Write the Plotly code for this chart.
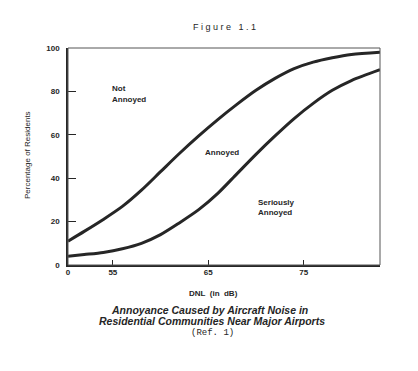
import plotly.graph_objects as go

# DNL values (dB)
dnl = [50.3, 52, 54, 56, 58, 60, 62, 64, 66, 68, 70, 72, 74, 76, 78, 80, 83]
# upper boundary: Not Annoyed / Annoyed
upper_pct = [11, 15.5, 21, 27, 34.5, 43, 51.5, 59.5, 67, 74, 80.5, 86, 90.5, 93.5, 95.5, 97, 98]
# lower boundary: Annoyed / Seriously Annoyed
lower_pct = [4, 4.8, 5.8, 7.5, 10, 14, 19.5, 25.5, 33, 42, 51, 59.5, 67.5, 74.5, 80.5, 85, 90]

x_tickvals = [50.3, 55, 65, 75]
x_ticktext = ["0", "55", "65", "75"]
y_tickvals = [0, 20, 40, 60, 80, 100]

INK = "#262626"
SANS = "Liberation Sans, Arial, sans-serif"

fig = go.Figure()
for vals in (upper_pct, lower_pct):
    fig.add_trace(go.Scatter(x=dnl, y=vals, mode="lines",
                             line=dict(color=INK, width=3, shape="spline", smoothing=0.8),
                             hoverinfo="skip", showlegend=False))

OFF = 8  # default page body margin
W, H = 418 - OFF, 371 - OFF
L, R, T, B = 68 - OFF, 38, 48 - OFF, 106
pw, ph = W - L - R, H - T - B

def px(xs):
    return (xs - OFF - L) / pw

def py(ys):
    return (OFF + H - B - ys) / ph

annotations = []
def txt(text, x, y, size=8.5, bold=False, italic=False, family=SANS, xanchor="center", align="center", angle=0):
    s = text
    if bold:
        s = "<b>" + s + "</b>"
    if italic:
        s = "<i>" + s + "</i>"
    annotations.append(dict(text=s, x=px(x), y=py(y), xref="paper", yref="paper",
                            xanchor=xanchor, yanchor="middle", showarrow=False,
                            align=align, textangle=angle,
                            font=dict(family=family, size=size, color=INK)))

txt("F i g u r e   1 . 1", 224, 27, size=9)
txt("Not", 110, 88, size=8, bold=True, xanchor="left")
txt("Annoyed", 110, 99, size=8, bold=True, xanchor="left")
txt("Annoyed", 203, 152, size=8, bold=True, xanchor="left")
txt("Seriously", 256, 202, size=8, bold=True, xanchor="left")
txt("Annoyed", 256, 212, size=8, bold=True, xanchor="left")
txt("DNL  (in  dB)", 213, 293, size=8, bold=True)
txt("Percentage of Residents", 27, 155, size=8, angle=-90)
txt("Annoyance Caused by Aircraft Noise in", 209, 310, size=10.5, bold=True, italic=True)
txt("Residential Communities Near Major Airports", 212, 321, size=10.5, bold=True, italic=True)
txt("(Ref. 1)", 212, 333, size=9, family="Liberation Mono, Courier New, monospace")

fig.update_layout(
    width=W, height=H,
    margin=dict(l=L, r=R, t=T, b=B, pad=0),
    paper_bgcolor="white", plot_bgcolor="white",
    showlegend=False,
    annotations=annotations,
    shapes=[dict(type="rect", xref="paper", yref="paper", x0=0, x1=1, y0=0, y1=1,
                 line=dict(color="#555555", width=1), layer="above")],
    xaxis=dict(range=[50.3, 83], tickvals=x_tickvals, ticktext=x_ticktext,
               ticks="inside", ticklen=5, tickwidth=1, tickcolor=INK,
               ticklabelstandoff=-2,
               showgrid=False, zeroline=False, showline=True, linecolor=INK, linewidth=2,
               tickfont=dict(family=SANS, size=8, color=INK, weight="bold"), fixedrange=True),
    yaxis=dict(range=[0, 100], tickvals=y_tickvals,
               ticks="inside", ticklen=8, tickwidth=1, tickcolor=INK,
               ticklabelstandoff=5,
               showgrid=False, zeroline=False, showline=True, linecolor=INK, linewidth=1.5,
               tickfont=dict(family=SANS, size=8, color=INK, weight="bold"), fixedrange=True),
)

fig.write_html("out.html", config={"displayModeBar": False})
